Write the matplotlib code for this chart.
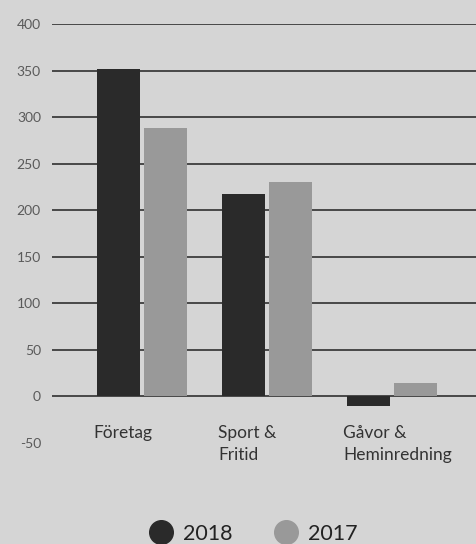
import matplotlib
matplotlib.use("Agg")
from matplotlib import pyplot as plt
from matplotlib.lines import Line2D

categories = ["Företag", "Sport &\nFritid", "Gåvor &\nHeminredning"]
series_names = ["2018", "2017"]
values_2018 = [352, 217, -10]
values_2017 = [289, 230, 14]
y_ticks = [-50, 0, 50, 100, 150, 200, 250, 300, 350, 400]

bg = "#d5d5d5"
dark = "#2a2a2a"
grey = "#999999"

plt.rcParams["font.family"] = ["Lato", "DejaVu Sans"]

fig = plt.figure(figsize=(4.77, 5.44), dpi=100, facecolor=bg)
ax = fig.add_axes([52 / 477, 1 - 442.8 / 544, 1 - 52 / 477, (442.8 - 24.3) / 544])
ax.set_facecolor(bg)

# grid lines only from 0 upwards
for t in y_ticks:
    if t >= 0:
        ax.axhline(t, color="#222222", lw=1.1, zorder=1)

xs = list(range(len(categories)))
w = 0.344
off = 0.188
ax.bar([x - off for x in xs], values_2018, width=w, color=dark, zorder=2)
ax.bar([x + off for x in xs], values_2017, width=w, color=grey, zorder=2)

ax.set_xlim(-0.72, 2.68)
ax.set_ylim(-50, 400)
ax.set_yticks(y_ticks)
ax.set_yticklabels([str(t) for t in y_ticks], color="#5a5a5a", fontsize=10)
ax.tick_params(axis="y", length=0, pad=8)
ax.set_xticks([])
for s in ax.spines.values():
    s.set_visible(False)

# category names under each group, left aligned with the first bar
for x, c in zip(xs, categories):
    ax.text(x - off - w / 2 - 0.03, -31, c, ha="left", va="top",
            fontsize=12.5, color="#333333", linespacing=1.45)

handles = [Line2D([], [], marker="o", ls="none", markersize=17, color=dark),
           Line2D([], [], marker="o", ls="none", markersize=17, color=grey)]
fig.legend(handles, series_names, loc="center", bbox_to_anchor=(0.53, 1 - 534 / 544),
           ncol=2, frameon=False, fontsize=15.5, handlelength=1.2,
           handletextpad=0.45, columnspacing=1.85, labelcolor="#222222")

fig.savefig("out.png", dpi=100, facecolor=bg)
